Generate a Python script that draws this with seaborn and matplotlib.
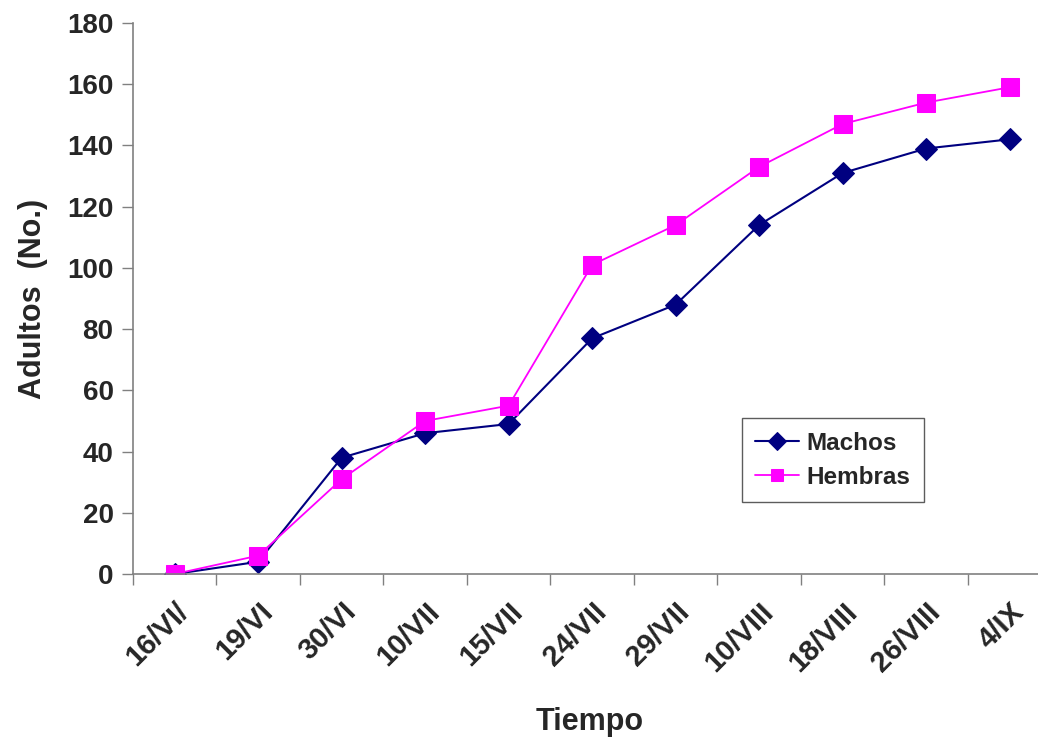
import matplotlib
matplotlib.use("Agg")
import matplotlib.pyplot as plt
import seaborn as sns
import pandas as pd
from matplotlib.ticker import FixedLocator

fechas = ["16/VI/", "19/VI", "30/VI", "10/VII", "15/VII", "24/VII",
          "29/VII", "10/VIII", "18/VIII", "26/VIII", "4/IX"]
machos = [0, 4, 38, 46, 49, 77, 88, 114, 131, 139, 142]
hembras = [0, 6, 31, 50, 55, 101, 114, 133, 147, 154, 159]

sns.set_theme(style="white")
plt.rcParams['font.family'] = ['Liberation Sans', 'DejaVu Sans']

df = pd.DataFrame({"Tiempo": fechas * 2,
                   "Adultos": machos + hembras,
                   "Serie": ["Machos"] * len(fechas) + ["Hembras"] * len(fechas)})

fig = plt.figure(figsize=(10.38, 7.4), dpi=100)
W, H = 1038, 740
ax = fig.add_axes([133 / W, (H - 574) / H, (W - 133) / W, (574 - 23) / H])

sns.lineplot(data=df[df.Serie == "Machos"], x="Tiempo", y="Adultos", ax=ax,
             color="#000080", marker="D", markersize=11, linewidth=1.5,
             markeredgecolor="#000080", sort=False, label="Machos")
sns.lineplot(data=df[df.Serie == "Hembras"], x="Tiempo", y="Adultos", ax=ax,
             color="#FF00FF", marker="s", markersize=13, linewidth=1.3,
             markeredgecolor="#FF00FF", sort=False, label="Hembras")

ax.set_xlim(-0.5, 10.34)
ax.set_ylim(0, 180)
ax.set_yticks(range(0, 181, 20))

# Excel-style ticks between categories
ax.xaxis.set_minor_locator(FixedLocator([i - 0.5 for i in range(len(fechas) + 1)]))
ax.tick_params(axis="x", which="major", length=0, pad=17)
ax.tick_params(axis="x", which="minor", length=8, width=1, color="#808080", direction="out", bottom=True)
ax.tick_params(axis="y", which="major", length=8, width=1, color="#808080", direction="out", left=True, pad=6)

for lab in ax.get_xticklabels():
    lab.set_rotation(45)
    lab.set_ha("right")
    lab.set_va("top")
    lab.set_rotation_mode("anchor")
    lab.set_fontsize(21)
    lab.set_fontweight("bold")
for lab in ax.get_yticklabels():
    lab.set_fontsize(20)
    lab.set_fontweight("bold")

for s in ["top", "right"]:
    ax.spines[s].set_visible(False)
for s in ["left", "bottom"]:
    ax.spines[s].set_color("#808080")
    ax.spines[s].set_linewidth(1.2)

ax.set_xlabel("Tiempo", fontsize=22, fontweight="bold")
ax.xaxis.set_label_coords((590 - 133) / 905, (574 - 707) / 551)
ax.set_ylabel("Adultos  (No.)", fontsize=22, fontweight="bold", labelpad=14)

leg = ax.legend(loc="lower left", bbox_to_anchor=((742 - 133) / 905, (574 - 502) / 551),
                borderaxespad=0, frameon=True, fancybox=False, edgecolor="#333333",
                handlelength=1.8, handletextpad=0.3, borderpad=0.55,
                labelspacing=0.45, prop={"weight": "bold", "size": 17.5})
leg.get_frame().set_linewidth(1.0)
for h in leg.legend_handles:
    h.set_markersize(9)

fig.savefig("out.png", dpi=100)
